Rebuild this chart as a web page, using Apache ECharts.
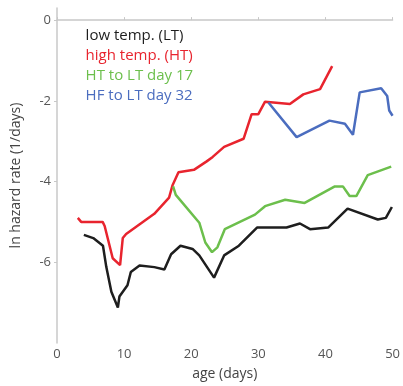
<!DOCTYPE html>
<html>
<head>
<meta charset="utf-8">
<script src="https://cdn.jsdelivr.net/npm/echarts@6/dist/echarts.min.js"></script>
<style>
  html, body { margin: 0; padding: 0; background: #fff; }
  #chart { width: 403px; height: 386px; }
</style>
</head>
<body>
<div id="chart"></div>
<script>
// series values: [age (days), ln hazard rate]
const lowTemp = [[4.0,-5.32],[5.4,-5.40],[6.85,-5.59],[7.35,-6.12],[8.1,-6.73],[9.07,-7.12],[9.3,-6.85],[10.5,-6.57],[11.0,-6.24],[12.3,-6.08],[14.5,-6.12],[16.0,-6.18],[17.0,-5.8],[18.4,-5.59],[20.2,-5.67],[21.2,-5.83],[23.4,-6.38],[24.9,-5.83],[27.1,-5.59],[29.8,-5.14],[34.2,-5.14],[36.2,-5.04],[37.7,-5.18],[40.4,-5.14],[43.3,-4.67],[47.8,-4.94],[49.0,-4.9],[49.9,-4.63]];
const highTemp = [[3.1,-4.9],[3.6,-5.0],[6.8,-5.0],[7.1,-5.1],[8.3,-5.9],[9.4,-6.07],[9.8,-5.4],[10.3,-5.3],[14.5,-4.8],[16.7,-4.4],[17.2,-4.1],[18.1,-3.77],[20.4,-3.71],[22.3,-3.5],[23.2,-3.39],[24.9,-3.14],[27.8,-2.94],[29.0,-2.33],[30.0,-2.33],[31.0,-2.02],[34.7,-2.08],[36.7,-1.84],[39.2,-1.71],[41.0,-1.14]];
const htToLt17 = [[17.3,-4.12],[17.7,-4.33],[21.2,-5.02],[22.1,-5.51],[23.1,-5.75],[23.9,-5.63],[25.0,-5.18],[29.5,-4.82],[31.0,-4.61],[34.0,-4.45],[36.9,-4.53],[41.4,-4.12],[42.6,-4.12],[43.6,-4.36],[44.6,-4.36],[46.3,-3.84],[49.8,-3.63]];
const hfToLt32 = [[31.5,-2.04],[35.7,-2.9],[40.6,-2.49],[42.9,-2.57],[44.1,-2.84],[45.1,-1.79],[48.3,-1.69],[49.2,-1.88],[49.5,-2.24],[50.0,-2.37]];

const seriesNames = ['low temp. (LT)', 'high temp. (HT)', 'HT to LT day 17', 'HF to LT day 32'];
const seriesColors = ['#1e1e1e', '#e8242e', '#6cbf4c', '#4b6dbf'];
const seriesData = [lowTemp, highTemp, htToLt17, hfToLt32];

const myChart = echarts.init(document.getElementById('chart'));

const seriesArr = seriesData.map((data, i) => ({
    name: seriesNames[i],
    type: 'line',
    data: data,
    symbol: 'none',
    color: seriesColors[i],
    lineStyle: { width: 2.5, color: seriesColors[i] },
    z: i === 0 ? 2 : 3
}));

const option = {
    animation: false,
    textStyle: { fontFamily: 'Open Sans' },
    grid: { left: 57, right: 8, top: 8, bottom: 38 },
    legend: {
        orient: 'vertical',
        left: 70,
        top: 23,
        itemWidth: 0,
        itemHeight: 14,
        itemGap: 5,
        itemStyle: { opacity: 0 },
        lineStyle: { opacity: 0 },
        selectedMode: false,
        data: seriesNames.map((n, i) => ({
            name: n,
            textStyle: { color: seriesColors[i], fontSize: 15, fontFamily: 'Open Sans', letterSpacing: -0.3 }
        }))
    },
    xAxis: {
        type: 'value',
        min: 0,
        max: 50,
        interval: 10,
        name: 'age (days)',
        nameLocation: 'middle',
        nameGap: 24,
        nameTextStyle: { color: '#444', fontSize: 14 },
        axisLine: { lineStyle: { color: '#c8c8c8', width: 1.5 } },
        axisTick: { inside: true, length: 3, lineStyle: { color: '#c8c8c8' } },
        axisLabel: { color: '#555', fontSize: 13, margin: 5 },
        splitLine: { show: false }
    },
    yAxis: {
        type: 'value',
        min: -8,
        max: 0.3,
        interval: 2,
        name: 'ln hazard rate (1/days)',
        nameLocation: 'middle',
        nameGap: 34,
        nameTextStyle: { color: '#444', fontSize: 14 },
        axisLine: { show: true, lineStyle: { color: '#c8c8c8', width: 1.5 } },
        axisTick: { show: true, length: 3, lineStyle: { color: '#c8c8c8' } },
        axisLabel: {
            color: '#555',
            fontSize: 13,
            margin: 6,
            showMinLabel: false,
            showMaxLabel: false
        },
        splitLine: { show: false }
    },
    series: seriesArr
};

myChart.setOption(option);
window.addEventListener('resize', function () {
    myChart.resize();
});
</script>
</body>
</html>
